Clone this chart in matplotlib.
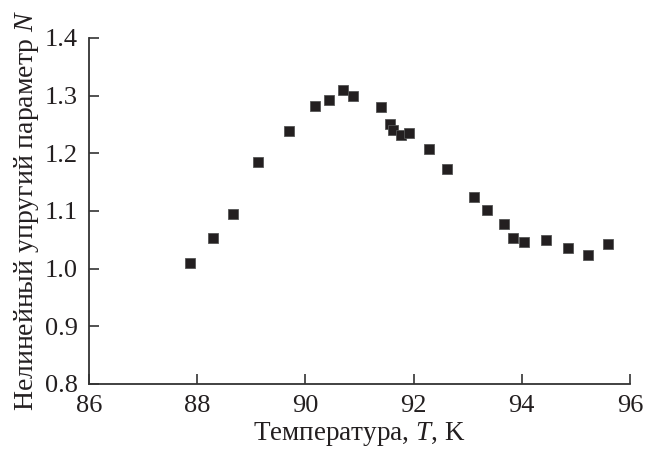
import matplotlib
matplotlib.use("Agg")
import matplotlib.pyplot as plt

# data
temperature = [87.86, 88.30, 88.66, 89.13, 89.70, 90.18, 90.44, 90.70, 90.88,
               91.39, 91.57, 91.62, 91.77, 91.91, 92.28, 92.61, 93.12, 93.36,
               93.67, 93.83, 94.04, 94.44, 94.85, 95.22, 95.60]
param_n = [1.010, 1.054, 1.094, 1.185, 1.239, 1.282, 1.293, 1.310, 1.299,
           1.281, 1.250, 1.241, 1.231, 1.235, 1.207, 1.172, 1.125, 1.101,
           1.077, 1.054, 1.047, 1.050, 1.035, 1.024, 1.042]

x_ticks = [86, 88, 90, 92, 94, 96]
y_ticks = [0.8, 0.9, 1.0, 1.1, 1.2, 1.3, 1.4]

plt.rcParams['font.family'] = ['Liberation Serif', 'DejaVu Serif']
plt.rcParams['mathtext.fontset'] = 'custom'
plt.rcParams['mathtext.it'] = 'Liberation Serif:italic'
plt.rcParams['mathtext.rm'] = 'Liberation Serif'

fig = plt.figure(figsize=(6.47, 4.49), dpi=100)
ax = fig.add_axes([0.1376, 0.1448, 0.836, 0.7706])

ax.plot(temperature, param_n, 's', color='#231f20', markersize=7.3,
        markeredgewidth=0.6, markeredgecolor='#555555')

ax.set_xlim(86, 96)
ax.set_ylim(0.8, 1.4)
ax.set_xticks(x_ticks)
ax.set_yticks(y_ticks)
ax.set_xticklabels([str(t) for t in x_ticks])
ax.set_yticklabels([f"{t:.1f}" for t in y_ticks])

for side in ['top', 'right']:
    ax.spines[side].set_visible(False)
for side in ['left', 'bottom']:
    ax.spines[side].set_linewidth(1.3)
    ax.spines[side].set_color('#333333')

ax.tick_params(direction='in', length=7, width=1.2, color='#333333',
               labelsize=19, labelcolor='#231f20')
ax.tick_params(axis='x', pad=8)
ax.tick_params(axis='y', pad=8)

ax.set_xlabel('Температура, $T$, K', fontsize=19.5, color='#231f20')
ax.xaxis.set_label_coords(0.5, -0.105)
ax.set_ylabel('Нелинейный упругий параметр $N$', fontsize=20,
              color='#231f20', labelpad=3)

fig.savefig('out.png', dpi=100)
